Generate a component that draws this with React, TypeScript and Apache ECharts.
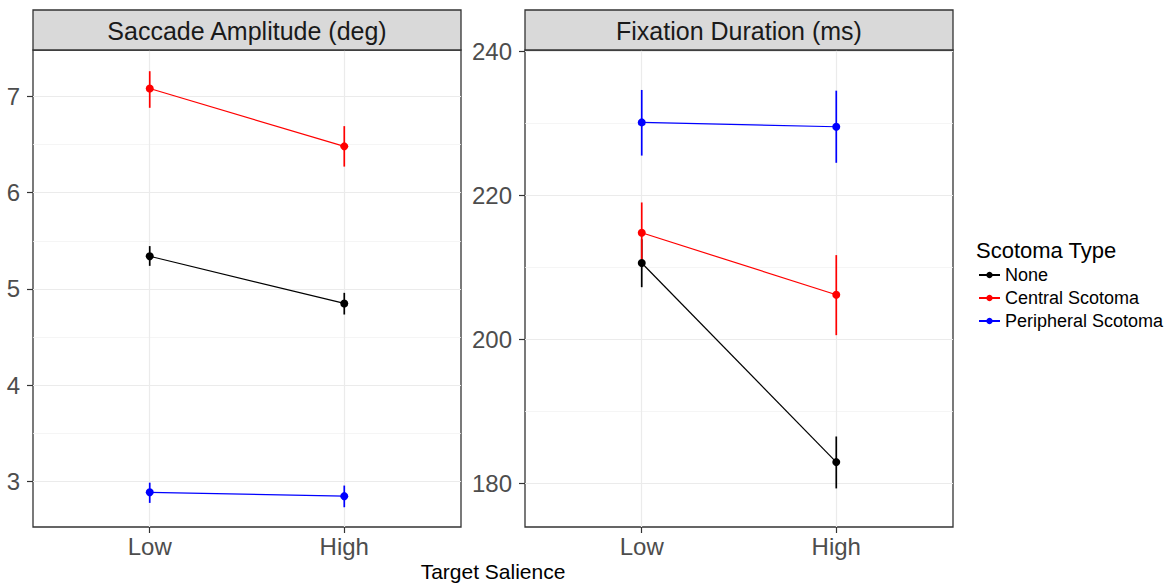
import React, { useEffect, useRef } from "react";
import * as echarts from "echarts";

const categories = ["Low", "High"];
const seriesNames = ["None", "Central Scotoma", "Peripheral Scotoma"];
const seriesColors = ["#000000", "#ff0000", "#0000ff"];

// Saccade Amplitude (deg)
const ampMean = [
  [5.34, 4.85],
  [7.08, 6.48],
  [2.89, 2.85],
];
const ampLow = [
  [5.24, 4.735],
  [6.88, 6.27],
  [2.78, 2.735],
];
const ampHigh = [
  [5.445, 4.96],
  [7.26, 6.69],
  [2.99, 2.96],
];

// Fixation Duration (ms)
const durMean = [
  [210.6, 183.0],
  [214.8, 206.2],
  [230.1, 229.5],
];
const durLow = [
  [207.25, 179.35],
  [210.6, 200.6],
  [225.5, 224.5],
];
const durHigh = [
  [213.9, 186.55],
  [219.0, 211.7],
  [234.6, 234.5],
];

const ampTicks = [3, 4, 5, 6, 7];
const ampMinor = [3.5, 4.5, 5.5, 6.5];
const durTicks = [180, 200, 220, 240];
const durMinor = [190, 210, 230];

const panelTitles = ["Saccade Amplitude (deg)", "Fixation Duration (ms)"];
const xTitle = "Target Salience";
const legendTitle = "Scotoma Type";

const FONT = "'Liberation Sans', Arial, Helvetica, sans-serif";

export default function App() {
  const ref = useRef<HTMLDivElement>(null);

  useEffect(() => {
    if (!ref.current) return;
    const chart = echarts.init(ref.current, null, { renderer: "svg" });

    const panelLeft = [33, 525];
    const panelWidth = 428;
    const gridTop = 50;
    const gridHeight = 477;
    const stripTop = 10;
    const stripH = 40;

    const yRanges = [
      [2.53, 7.48],
      [174.0, 240.14],
    ];
    const majors = [ampTicks, durTicks];
    const minors = [ampMinor, durMinor];
    const means = [ampMean, durMean];
    const lows = [ampLow, durLow];
    const highs = [ampHigh, durHigh];

    const grids = panelLeft.map((l) => ({
      left: l,
      top: gridTop,
      width: panelWidth,
      height: gridHeight,
      show: true,
      borderColor: "#333333",
      borderWidth: 1.3,
      backgroundColor: "#ffffff",
      containLabel: false,
    }));

    const xAxes = panelLeft.map((_, i) => ({
      type: "value",
      gridIndex: i,
      min: 0.4,
      max: 2.6,
      axisLine: { show: false },
      axisTick: {
        show: true,
        customValues: [1, 2],
        length: 6,
        lineStyle: { color: "#333333", width: 1.2 },
      },
      axisLabel: {
        show: true,
        customValues: [1, 2],
        formatter: (v: number) => categories[Math.round(v) - 1] ?? "",
        fontSize: 24,
        color: "#4d4d4d",
        fontFamily: FONT,
        margin: 7,
      },
      splitLine: { show: false },
    }));

    const yAxes = panelLeft.map((_, i) => ({
      type: "value",
      gridIndex: i,
      min: yRanges[i][0],
      max: yRanges[i][1],
      axisLine: { show: false },
      axisTick: {
        show: true,
        customValues: majors[i],
        length: 6,
        lineStyle: { color: "#333333", width: 1.2 },
      },
      axisLabel: {
        show: true,
        customValues: majors[i],
        fontSize: 24,
        color: "#4d4d4d",
        fontFamily: FONT,
        margin: 13,
      },
      splitLine: { show: false },
    }));

    const series: any[] = [];
    // gridlines via markLine helpers
    panelLeft.forEach((_, i) => {
      series.push({
        type: "line",
        name: "grid" + i,
        xAxisIndex: i,
        yAxisIndex: i,
        data: [],
        silent: true,
        z: 1,
        markLine: {
          silent: true,
          z: 1,
          symbol: ["none", "none"],
          label: { show: false },
          animation: false,
          data: [
            ...majors[i].map((v) => ({
              yAxis: v,
              lineStyle: { color: "#ebebeb", width: 1.2, type: "solid" },
            })),
            ...minors[i].map((v) => ({
              yAxis: v,
              lineStyle: { color: "#f2f2f2", width: 0.8, type: "solid" },
            })),
            ...categories.map((_, k) => ({
              xAxis: k + 1,
              lineStyle: { color: "#ebebeb", width: 1.2, type: "solid" },
            })),
          ],
        },
      });
    });

    panelLeft.forEach((_, i) => {
      seriesNames.forEach((name, s) => {
        const color = seriesColors[s];
        series.push({
          type: "custom",
          name: name + " err" + i,
          xAxisIndex: i,
          yAxisIndex: i,
          z: 6,
          silent: true,
          encode: { x: 0, y: [1, 2] },
          data: categories.map((_, k) => [k + 1, lows[i][s][k], highs[i][s][k]]),
          renderItem: (params: any, api: any) => {
            const x = api.value(0);
            const p1 = api.coord([x, api.value(1)]);
            const p2 = api.coord([x, api.value(2)]);
            return {
              type: "line",
              shape: { x1: p1[0], y1: p1[1], x2: p2[0], y2: p2[1] },
              style: { stroke: color, lineWidth: 1.7 },
            };
          },
        });
        series.push({
          type: "line",
          name,
          xAxisIndex: i,
          yAxisIndex: i,
          z: 7,
          symbol: "circle",
          symbolSize: 8,
          showSymbol: true,
          color,
          itemStyle: { color },
          lineStyle: { color, width: 1.2 },
          data: categories.map((_, k) => [k + 1, means[i][s][k]]),
        });
      });
    });

    const graphic: any[] = [];
    panelLeft.forEach((l, i) => {
      graphic.push({
        type: "rect",
        shape: { x: l, y: stripTop, width: panelWidth, height: stripH },
        style: { fill: "#d9d9d9", stroke: "#333333", lineWidth: 1.3 },
        z: 10,
      });
      graphic.push({
        type: "text",
        x: l + panelWidth / 2,
        y: stripTop + stripH / 2 + 1,
        style: {
          text: panelTitles[i],
          fill: "#1a1a1a",
          font: `25px ${FONT}`,
          textAlign: "center",
          textVerticalAlign: "middle",
        },
        z: 11,
      });
    });
    graphic.push({
      type: "text",
      x: (panelLeft[0] + panelLeft[1] + panelWidth) / 2,
      y: 571,
      style: {
        text: xTitle,
        fill: "#000000",
        font: `21px ${FONT}`,
        textAlign: "center",
        textVerticalAlign: "middle",
      },
    });
    graphic.push({
      type: "text",
      x: 976,
      y: 250,
      style: {
        text: legendTitle,
        fill: "#000000",
        font: `22px ${FONT}`,
        textAlign: "left",
        textVerticalAlign: "middle",
      },
    });

    chart.setOption({
      animation: false,
      backgroundColor: "#ffffff",
      grid: grids,
      xAxis: xAxes,
      yAxis: yAxes,
      legend: {
        show: true,
        data: seriesNames,
        orient: "vertical",
        left: 978,
        top: 266,
        padding: 0,
        itemWidth: 21,
        itemHeight: 8,
        itemGap: 5,
        selectedMode: false,
        textStyle: { fontSize: 18, lineHeight: 18, color: "#000000", fontFamily: FONT },
      },
      graphic,
      series,
    });

    return () => chart.dispose();
  }, []);

  return (
    <div
      ref={ref}
      style={{ position: "absolute", left: 0, top: 0, width: 1172, height: 585 }}
    />
  );
}
